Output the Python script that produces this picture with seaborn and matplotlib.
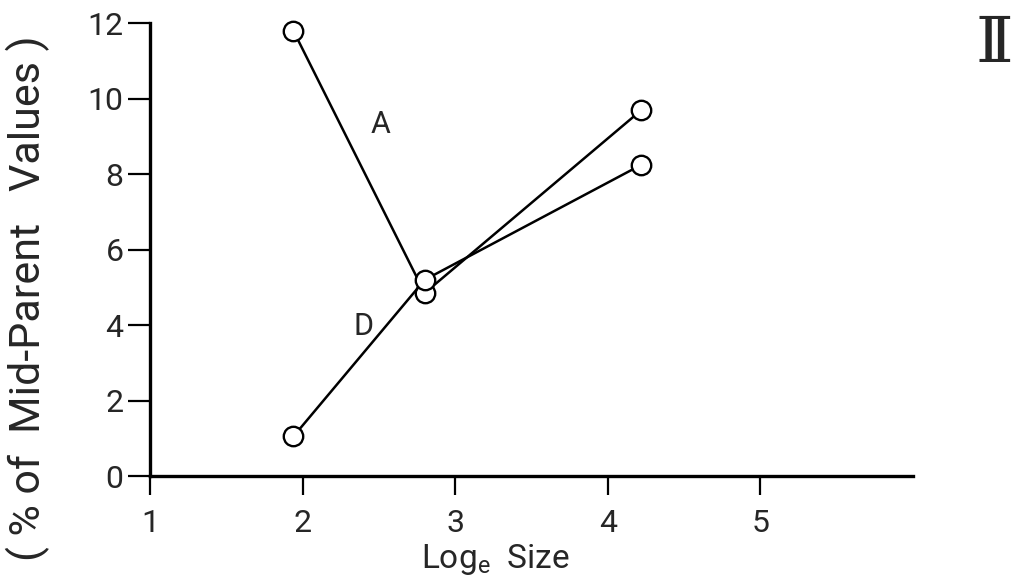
import numpy as np
import pandas as pd
import seaborn as sns
import matplotlib
matplotlib.use("Agg")
import matplotlib.pyplot as plt

# ---- data ----
series_names = ["A", "D"]
x_vals = [1.94, 2.80, 4.22]
a_vals = [11.8, 4.85, 9.7]
d_vals = [1.05, 5.2, 8.25]
x_ticks = [1, 2, 3, 4, 5]
y_ticks = [0, 2, 4, 6, 8, 10, 12]

df = pd.DataFrame({
    "x": x_vals * 2,
    "y": a_vals + d_vals,
    "series": [series_names[0]] * 3 + [series_names[1]] * 3,
})

sns.set_theme(style="ticks")
plt.rcParams["font.family"] = ["Roboto", "DejaVu Sans"]
plt.rcParams["mathtext.fontset"] = "custom"
plt.rcParams["mathtext.rm"] = "Roboto"
plt.rcParams["mathtext.it"] = "Roboto"

fig = plt.figure(figsize=(10.16, 5.86), dpi=100)
ax = fig.add_axes([150 / 1016, 110 / 586, 763 / 1016, 452.7 / 586])

for name in series_names:
    sub = df[df["series"] == name]
    sns.lineplot(data=sub, x="x", y="y", ax=ax, color="black", lw=1.8,
                 marker="o", markersize=14, markerfacecolor="white",
                 markeredgecolor="black", markeredgewidth=1.7, sort=False,
                 legend=False, clip_on=False)

ax.set_xlim(1, 6)
ax.set_ylim(0, 12)
ax.set_xticks(x_ticks)
ax.set_yticks(y_ticks)
ax.set_xticklabels([str(t) for t in x_ticks], fontsize=23)
ax.set_yticklabels([str(t) for t in y_ticks], fontsize=23)
ax.tick_params(axis="x", length=14, width=1.6, pad=10, direction="out", color="black")
ax.tick_params(axis="y", length=16, width=1.6, pad=3, direction="out", color="black")
for s in ["top", "right"]:
    ax.spines[s].set_visible(False)
for s in ["left", "bottom"]:
    ax.spines[s].set_linewidth(2.4)
    ax.spines[s].set_color("black")

ax.set_xlabel("Log$_e$  Size", fontsize=24)
ax.xaxis.set_label_coords(0.453, -0.145)
ax.set_ylabel("")
fig.text(28 / 1016, 1 - 298 / 586, "( % of  Mid-Parent   Values )", fontsize=31,
         rotation=90, ha="center", va="center")

ax.text(2.51, 9.31, "A", fontsize=22, ha="center", va="center")
ax.text(2.40, 3.96, "D", fontsize=22, ha="center", va="center")

fig.text(994 / 1016, 1 - 44 / 586, "Ⅱ", fontsize=46, ha="center", va="center",
         family=["DejaVu Serif", "DejaVu Sans"])

fig.savefig("out.png", dpi=100)
